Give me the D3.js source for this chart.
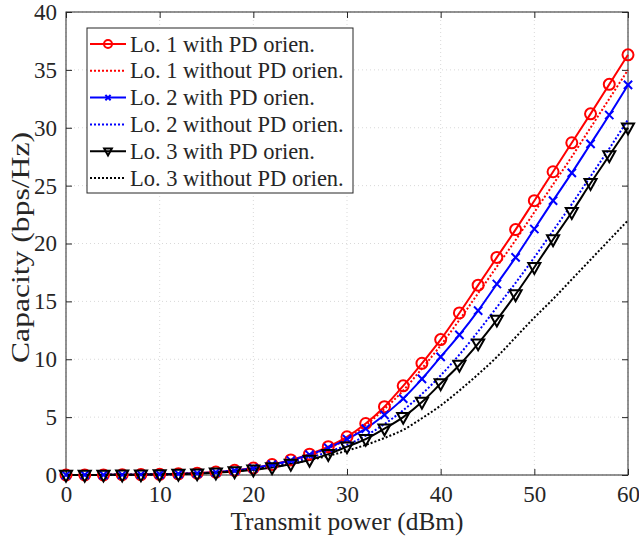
<!DOCTYPE html>
<html>
<head>
<meta charset="utf-8">
<script src="https://cdn.jsdelivr.net/npm/d3@7"></script>
<style>
  body { margin: 0; background: #fff; }
  svg text { font-family: 'Liberation Serif', 'Times New Roman', serif; fill: #262626; }
</style>
</head>
<body>
<svg id="chart"></svg>
<script>
// transmit power (dBm), one point every 2 dBm
let power = d3.range(0, 61, 2)

// capacity (bps/Hz)
let lo1With = [0, 0.01, 0.01, 0.02, 0.04, 0.06, 0.1, 0.16, 0.25, 0.4, 0.6, 0.9, 1.3, 1.8, 2.45, 3.3,
  4.45, 5.9, 7.7, 9.65, 11.7, 14.0, 16.4, 18.8, 21.2, 23.7, 26.2, 28.7, 31.2, 33.75, 36.3]
let lo1Without = [0, 0.01, 0.01, 0.02, 0.04, 0.06, 0.09, 0.15, 0.23, 0.37, 0.55, 0.85, 1.2, 1.7, 2.3, 3.1,
  4.3, 5.7, 7.3, 9.2, 11.2, 13.4, 15.7, 18.0, 20.3, 22.7, 25.1, 27.5, 30.0, 32.5, 35.0]
let lo2With = [0, 0.01, 0.01, 0.02, 0.04, 0.06, 0.1, 0.15, 0.24, 0.38, 0.6, 0.9, 1.25, 1.75, 2.35, 3.1,
  4.0, 5.2, 6.6, 8.3, 10.2, 12.1, 14.2, 16.5, 18.8, 21.25, 23.7, 26.1, 28.6, 31.1, 33.7]
let lo2Without = [0, 0.01, 0.01, 0.02, 0.03, 0.05, 0.09, 0.14, 0.22, 0.35, 0.55, 0.8, 1.1, 1.5, 2.0, 2.6,
  3.4, 4.4, 5.6, 7.0, 8.6, 10.4, 12.4, 14.5, 16.6, 18.8, 21.1, 23.4, 25.8, 28.2, 30.7]
let lo3With = [0, 0, 0.01, 0.02, 0.03, 0.05, 0.08, 0.12, 0.2, 0.3, 0.45, 0.65, 0.95, 1.3, 1.8, 2.45,
  3.1, 4.0, 5.0, 6.3, 7.9, 9.5, 11.35, 13.4, 15.6, 17.95, 20.35, 22.7, 25.2, 27.6, 30.0]
let lo3Without = [0, 0, 0.01, 0.02, 0.03, 0.05, 0.09, 0.14, 0.22, 0.33, 0.5, 0.7, 0.95, 1.3, 1.65, 2.1,
  2.6, 3.2, 3.9, 4.9, 6.0, 7.3, 8.7, 10.2, 11.9, 13.6, 15.2, 16.9, 18.6, 20.3, 22.0]

let seriesNames = ['Lo. 1 with PD orien.', 'Lo. 1 without PD orien.', 'Lo. 2 with PD orien.',
  'Lo. 2 without PD orien.', 'Lo. 3 with PD orien.', 'Lo. 3 without PD orien.']
let seriesValues = [lo1With, lo1Without, lo2With, lo2Without, lo3With, lo3Without]
let seriesColors = ['#ff0000', '#ff0000', '#0000ff', '#0000ff', '#000000', '#000000']
let seriesMarkers = ['circle', null, 'cross', null, 'triangle', null]

let xTicks = [0, 10, 20, 30, 40, 50, 60]
let yTicks = [0, 5, 10, 15, 20, 25, 30, 35, 40]

let outerWidth = 639
let outerHeight = 539
let margins = { top: 12, bottom: 64, left: 66, right: 11 }
let innerWidth = outerWidth - margins.left - margins.right
let innerHeight = outerHeight - margins.top - margins.bottom

let svg = d3.select('svg#chart')
  .attr('width', outerWidth)
  .attr('height', outerHeight)

let inner = svg.append('g')
  .attr('transform', 'translate(' + margins.left + ',' + margins.top + ')')

let xScale = d3.scaleLinear().domain([0, 60]).range([0, innerWidth])
let yScale = d3.scaleLinear().domain([0, 40]).range([innerHeight, 0])

//dotted grid
inner.append('g')
  .selectAll('line')
  .data(xTicks)
  .join('line')
  .attr('x1', d => xScale(d)).attr('x2', d => xScale(d))
  .attr('y1', 0).attr('y2', innerHeight)
  .attr('stroke', '#d9d9d9').attr('stroke-width', 1).attr('stroke-dasharray', '1,3')
inner.append('g')
  .selectAll('line')
  .data(yTicks)
  .join('line')
  .attr('y1', d => yScale(d)).attr('y2', d => yScale(d))
  .attr('x1', 0).attr('x2', innerWidth)
  .attr('stroke', '#d9d9d9').attr('stroke-width', 1).attr('stroke-dasharray', '1,3')

//axes with inward ticks, box on all sides
let axisColor = '#262626'
function styleAxis(g) {
  g.select('.domain').remove()
  g.selectAll('.tick line').attr('stroke', axisColor)
  g.selectAll('.tick text').attr('fill', axisColor)
    .style('font-family', "'Liberation Serif', serif").style('font-size', '23px')
}
function noLabels(g) {
  g.select('.domain').remove()
  g.selectAll('.tick line').attr('stroke', axisColor)
  g.selectAll('.tick text').remove()
}
inner.append('g')
  .attr('transform', 'translate(0,' + innerHeight + ')')
  .call(d3.axisBottom(xScale).tickValues(xTicks).tickSize(-6).tickPadding(11).tickFormat(d3.format('d')))
  .call(styleAxis)
inner.append('g')
  .call(d3.axisTop(xScale).tickValues(xTicks).tickSize(-6))
  .call(noLabels)
inner.append('g')
  .call(d3.axisLeft(yScale).tickValues(yTicks).tickSize(-6).tickPadding(9).tickFormat(d3.format('d')))
  .call(styleAxis)
inner.append('g')
  .attr('transform', 'translate(' + innerWidth + ',0)')
  .call(d3.axisRight(yScale).tickValues(yTicks).tickSize(-6))
  .call(noLabels)

inner.append('rect')
  .attr('width', innerWidth).attr('height', innerHeight)
  .attr('fill', 'none').attr('stroke', axisColor).attr('stroke-width', 1)

//curves
let line = d3.line()
  .x((d, i) => xScale(power[i]))
  .y(d => yScale(d))
  .curve(d3.curveMonotoneX)

function drawMarker(g, type, color, size) {
  if (type === 'circle') {
    g.append('circle').attr('r', size).attr('fill', 'none')
      .attr('stroke', color).attr('stroke-width', 2)
  } else if (type === 'cross') {
    let s = size * 0.75
    g.append('path').attr('d', `M${-s},${-s}L${s},${s}M${-s},${s}L${s},${-s}`)
      .attr('stroke', color).attr('stroke-width', 2).attr('fill', 'none')
  } else if (type === 'triangle') {
    let s = size * 1.1
    g.append('path').attr('d', `M${-s},${-s * 0.7}L${s},${-s * 0.7}L0,${s * 1.1}Z`)
      .attr('stroke', color).attr('stroke-width', 2).attr('fill', 'none')
  }
}

seriesValues.forEach((vals, k) => {
  let dotted = seriesMarkers[k] === null
  inner.append('path')
    .datum(vals)
    .attr('d', line)
    .attr('fill', 'none')
    .attr('stroke', seriesColors[k])
    .attr('stroke-width', 2)
    .attr('stroke-dasharray', dotted ? '2,2' : null)
})
// markers drawn afterwards so they sit on top
seriesValues.forEach((vals, k) => {
  if (!seriesMarkers[k]) return
  inner.append('g')
    .selectAll('g')
    .data(vals)
    .join('g')
    .attr('transform', (d, i) => 'translate(' + xScale(power[i]) + ',' + yScale(d) + ')')
    .each(function () { drawMarker(d3.select(this), seriesMarkers[k], seriesColors[k], 5.5) })
})

//legend
let legend = svg.append('g').attr('transform', 'translate(87,28)')
legend.append('rect')
  .attr('width', 266).attr('height', 165)
  .attr('fill', '#fff').attr('stroke', axisColor).attr('stroke-width', 1)
seriesNames.forEach((name, k) => {
  let y = 16 + k * 26.8
  legend.append('line')
    .attr('x1', 3).attr('x2', 39).attr('y1', y).attr('y2', y)
    .attr('stroke', seriesColors[k]).attr('stroke-width', 2)
    .attr('stroke-dasharray', seriesMarkers[k] ? null : '2,2')
  if (seriesMarkers[k]) {
    let g = legend.append('g').attr('transform', 'translate(21,' + y + ')')
    drawMarker(g, seriesMarkers[k], seriesColors[k], seriesMarkers[k] === 'circle' ? 4 : 3.5)
  }
  legend.append('text')
    .attr('x', 43).attr('y', y + 7.5)
    .style('font-size', '22.5px')
    .attr('fill', '#000')
    .text(name)
})

//axis labels
svg.append('text')
  .attr('x', margins.left + innerWidth / 2)
  .attr('y', 530)
  .attr('text-anchor', 'middle')
  .attr('textLength', 233)
  .attr('lengthAdjust', 'spacingAndGlyphs')
  .style('font-size', '25px')
  .text('Transmit power (dBm)')
svg.append('text')
  .attr('transform', 'translate(29,' + (margins.top + innerHeight / 2 + 4) + ') rotate(-90)')
  .attr('text-anchor', 'middle')
  .attr('textLength', 231)
  .attr('lengthAdjust', 'spacingAndGlyphs')
  .style('font-size', '25px')
  .text('Capacity (bps/Hz)')
</script>
</body>
</html>
